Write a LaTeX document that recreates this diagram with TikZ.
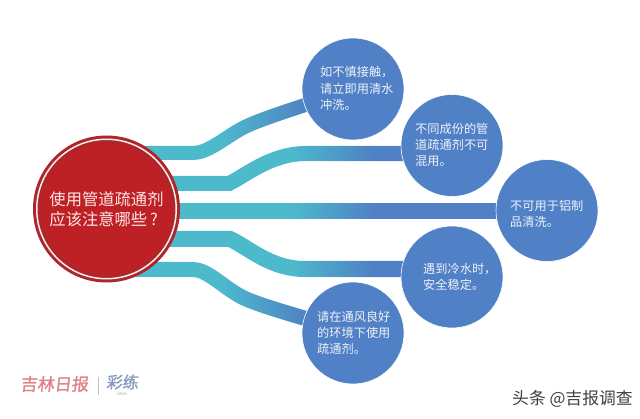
\documentclass[tikz,border=0pt]{standalone}
\usepackage{fontspec}
\setmainfont{Noto Sans CJK SC}
\newfontfamily\logofont[FakeSlant=0.12,FakeBold=1.2]{Noto Sans CJK SC}
\usetikzlibrary{fadings,calc}
\definecolor{ribteal}{RGB}{77,186,204}
\definecolor{ribblue}{RGB}{80,128,197}
\definecolor{hubred}{RGB}{190,33,37}
\definecolor{hubdark}{RGB}{170,40,44}
\definecolor{softwhite}{RGB}{238,243,250}
\pgfdeclarehorizontalshading{shA}{100bp}{color(0bp)=(black); color(34.5bp)=(black); color(48.5bp)=(white); color(100bp)=(white)}
\pgfdeclarehorizontalshading{shB}{100bp}{color(0bp)=(black); color(45.5bp)=(black); color(58.5bp)=(white); color(100bp)=(white)}
\pgfdeclarefading{fadeA}{\pgfuseshading{shA}}
\pgfdeclarefading{fadeB}{\pgfuseshading{shB}}
\tikzset{
  leaf/.style={circle,fill=ribblue,draw=white,line width=0.6pt,minimum size=102pt,inner sep=0pt,outer sep=0pt},
  leaftext/.style={anchor=west,align=left,text=softwhite,font=\fontsize{12.2pt}{16.2pt}\selectfont,inner sep=0pt},
  hubnode/.style={circle,fill=hubred,draw=hubdark,line width=3pt,double=white!92!red,double distance=1.5pt,minimum size=139.5pt,inner sep=0pt,outer sep=0pt,align=left,text=white!90!red,font=\fontsize{16.3pt}{20pt}\selectfont},
  ribA/.style={draw=ribteal,line width=#1,postaction={draw=ribblue,path fading=fadeA,fit fading=false,fading transform={xshift=320pt,yshift=-209pt,scale=6.4}}},
  ribB/.style={draw=ribteal,line width=#1,postaction={draw=ribblue,path fading=fadeB,fit fading=false,fading transform={xshift=320pt,yshift=-209pt,scale=6.4}}},
}
\begin{document}
\begin{tikzpicture}[x=1pt,y=-1pt]
\useasboundingbox[fill=white] (0,0) rectangle (640,419);
\coordinate (hubc) at (106.5,209);
\coordinate (c1) at (353,89);
\coordinate (c2) at (452,145.5);
\coordinate (c3) at (547,210.5);
\coordinate (c4) at (452,277);
\coordinate (c5) at (353,333);
% connectors
\draw[ribA=14pt] ([yshift=56pt]hubc) -- (193,153) .. controls (207,153) and (222,140) .. (240,129.5) .. controls (258,119) and (310,104) .. (c1);
\draw[ribB=15pt] ([yshift=25.5pt]hubc) -- (229,183.5) .. controls (245,176) and (270,154) .. (305,153.5) -- ([yshift=-8pt]c2);
\draw[ribB=16pt] ([yshift=-2pt]hubc) -- ([yshift=-0.5pt]c3);
\draw[ribB=16pt] ([yshift=-30pt]hubc) -- (230,239) .. controls (248,247) and (270,269) .. (305,269) -- ([yshift=8pt]c4);
\draw[ribA=15pt] ([yshift=-60.5pt]hubc) -- (193,269.5) .. controls (207,269.5) and (222,286) .. (240,296) .. controls (258,306) and (310,319) .. (c5);
% nodes
\node[hubnode] (hub) at (hubc) {使用管道疏通剂\\应该注意哪些\hspace{3pt}?\hspace{2pt}};
\node[leaf] (n1) at (c1) {};
\node[leaf] (n2) at (c2) {};
\node[leaf] (n3) at (c3) {};
\node[leaf] (n4) at (c4) {};
\node[leaf] (n5) at (c5) {};
\node[leaftext] (t1) at (320,88.5) {如不慎接触，\\请立即用清水\\冲洗。};
\node[leaftext] (t2) at (415,145) {不同成份的管\\道疏通剂不可\\混用。};
\node[leaftext] (t3) at (510,214) {不可用于铝制\\品清洗。};
\node[leaftext] (t4) at (423,277) {遇到冷水时，\\安全稳定。};
\node[leaftext] (t5) at (317,333) {请在通风良好\\的环境下使用\\疏通剂。};
% logos
\node[anchor=west,inner sep=0pt,text={rgb,255:red,225;green,130;blue,135},font=\logofont\fontsize{17pt}{17pt}\selectfont] (logo) at (20,384) {吉林日报};
\coordinate (divtop) at (98,377);
\coordinate (divbot) at (98,395);
\draw[black!25,line width=0.5pt] (divtop) -- (divbot);
\node[anchor=west,inner sep=0pt,text={rgb,255:red,135;green,155;blue,190},font=\logofont\fontsize{16pt}{16pt}\selectfont] (logob) at (106,382) {彩练};
\node[inner sep=0pt,text=black!35,font=\fontsize{3.5pt}{4pt}\selectfont] (news) at (122,394) {NEWS};
\node[anchor=west,inner sep=0pt,text=black!75,font=\fontsize{16.8pt}{17pt}\selectfont] (mark) at (512,399) {头条 @吉报调查};
\end{tikzpicture}
\end{document}
